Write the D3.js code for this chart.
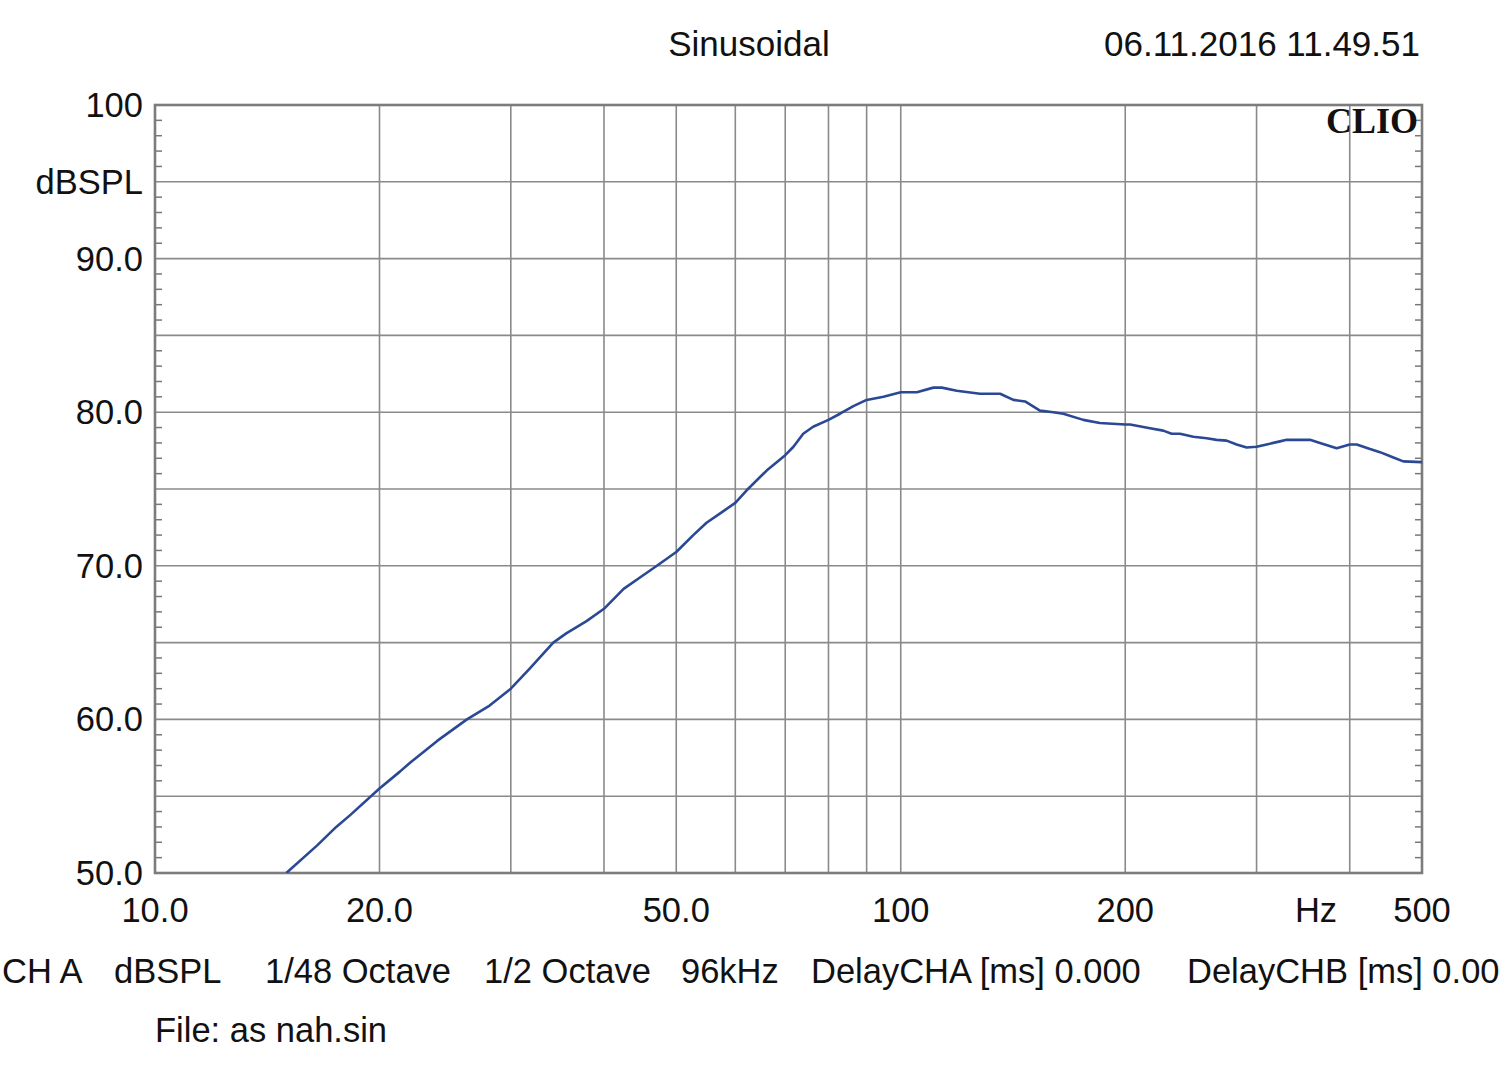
<!DOCTYPE html>
<html><head><meta charset="utf-8">
<script src="https://cdn.jsdelivr.net/npm/d3@7"></script>
<style>body{margin:0;background:#fff;overflow:hidden}svg{display:block}text{font-family:"Liberation Sans",Arial,sans-serif;fill:#111}</style>
</head><body>
<svg id="c" width="1500" height="1074"></svg>
<script>
const freqs = [15.0,16.5,17.5,18.3,20.0,21.3,22.0,23.9,26.2,28.1,30.0,31.8,34.2,35.6,37.9,40.0,42.5,45.2,47.1,50.0,52.7,54.9,57.2,60.0,62.1,66.1,70.0,71.8,74.0,76.3,80.0,82.9,86.4,90.0,94.8,100,105.1,110.6,113.5,118.9,127.7,135.9,141.6,146.8,153.7,160.2,165.2,175.7,184.9,200,203,215.9,224.9,230.8,236.8,246.8,257.2,265.2,273.5,282.1,291,300,309.5,322.5,329.2,353.8,364.9,384.2,400,408.7,425.9,439.2,457.7,471.9,500];
const spl   = [50.0,51.8,53.0,53.8,55.5,56.6,57.2,58.6,60.0,60.9,62.0,63.3,65.0,65.6,66.4,67.2,68.5,69.4,70.0,70.9,72.0,72.8,73.4,74.1,74.9,76.2,77.2,77.75,78.6,79.05,79.5,79.9,80.4,80.8,81.0,81.3,81.3,81.6,81.6,81.4,81.2,81.2,80.8,80.7,80.1,80.0,79.9,79.5,79.3,79.2,79.2,78.95,78.8,78.6,78.6,78.4,78.3,78.2,78.15,77.9,77.7,77.75,77.9,78.1,78.2,78.2,78.0,77.65,77.9,77.9,77.6,77.4,77.05,76.8,76.75];
const xGrid = [20,30,40,50,60,70,80,90,100,200,300,400];
const xLabels = [[10,"10.0"],[20,"20.0"],[50,"50.0"],[100,"100"],[200,"200"],[500,"500"]];
const yGrid = [55,60,65,70,75,80,85,90,95];
const yLabels = [[100,"100"],[95,"dBSPL"],[90,"90.0"],[80,"80.0"],[70,"70.0"],[60,"60.0"],[50,"50.0"]];
const footer = [["CH A",2],["dBSPL",114],["1/48 Octave",265],["1/2 Octave",484],["96kHz",681],["DelayCHA [ms] 0.000",811],["DelayCHB [ms] 0.000",1187]];

const svg = d3.select("#c");
const L=155,R=1422,T=105,B=873;
const x = d3.scaleLog().domain([10,500]).range([L,R]);
const y = d3.scaleLinear().domain([50,100]).range([B,T]);
const gridCol="#8a8a8a";
const fs=34.5;

svg.append("g").selectAll("line").data(xGrid).join("line")
  .attr("x1",d=>x(d)).attr("x2",d=>x(d)).attr("y1",T).attr("y2",B)
  .attr("stroke",gridCol).attr("stroke-width",1.6);
svg.append("g").selectAll("line").data(yGrid).join("line")
  .attr("y1",d=>y(d)).attr("y2",d=>y(d)).attr("x1",L).attr("x2",R)
  .attr("stroke",gridCol).attr("stroke-width",1.6);

const minor = d3.range(51,100).filter(v=>v%5!==0);
svg.append("g").selectAll("line").data(minor).join("line")
  .attr("x1",L).attr("x2",L+7).attr("y1",d=>y(d)).attr("y2",d=>y(d))
  .attr("stroke","#777").attr("stroke-width",1.5);
svg.append("g").selectAll("line").data(minor).join("line")
  .attr("x1",R-7).attr("x2",R).attr("y1",d=>y(d)).attr("y2",d=>y(d))
  .attr("stroke","#777").attr("stroke-width",1.5);

svg.append("rect").attr("x",L).attr("y",T).attr("width",R-L).attr("height",B-T)
  .attr("fill","none").attr("stroke","#7c7c7c").attr("stroke-width",2.6);

svg.append("clipPath").attr("id","pc").append("rect").attr("x",L).attr("y",T).attr("width",R-L).attr("height",B-T);
const pts = freqs.map((f,i)=>[f,spl[i]]);
svg.append("path").datum(pts).attr("clip-path","url(#pc)")
  .attr("d",d3.line().x(d=>x(d[0])).y(d=>y(d[1])))
  .attr("fill","none").attr("stroke","#2a4893").attr("stroke-width",2.6).attr("stroke-linejoin","round");

svg.append("g").selectAll("text").data(yLabels).join("text")
  .attr("x",143).attr("y",d=>y(d[0])+12).attr("text-anchor","end")
  .attr("font-size",fs).text(d=>d[1]);
svg.append("g").selectAll("text").data(xLabels).join("text")
  .attr("x",d=>x(d[0])).attr("y",922).attr("text-anchor","middle")
  .attr("font-size",fs).text(d=>d[1]);
svg.append("text").attr("x",1316).attr("y",922).attr("text-anchor","middle").attr("font-size",fs).text("Hz");

svg.append("text").attr("x",749).attr("y",56).attr("text-anchor","middle").attr("font-size",35).text("Sinusoidal");
svg.append("text").attr("x",1420).attr("y",56).attr("text-anchor","end").attr("font-size",35).text("06.11.2016 11.49.51");
svg.append("text").attr("x",1418).attr("y",133).attr("text-anchor","end")
  .style("font-family","'Liberation Serif','DejaVu Serif',serif").attr("font-weight","bold").attr("font-size",36).text("CLIO");

svg.append("g").selectAll("text").data(footer).join("text")
  .attr("x",d=>d[1]).attr("y",983).attr("font-size",fs).text(d=>d[0]);
svg.append("text").attr("x",155).attr("y",1042).attr("font-size",fs).text("File: as nah.sin");
</script>
</body></html>
